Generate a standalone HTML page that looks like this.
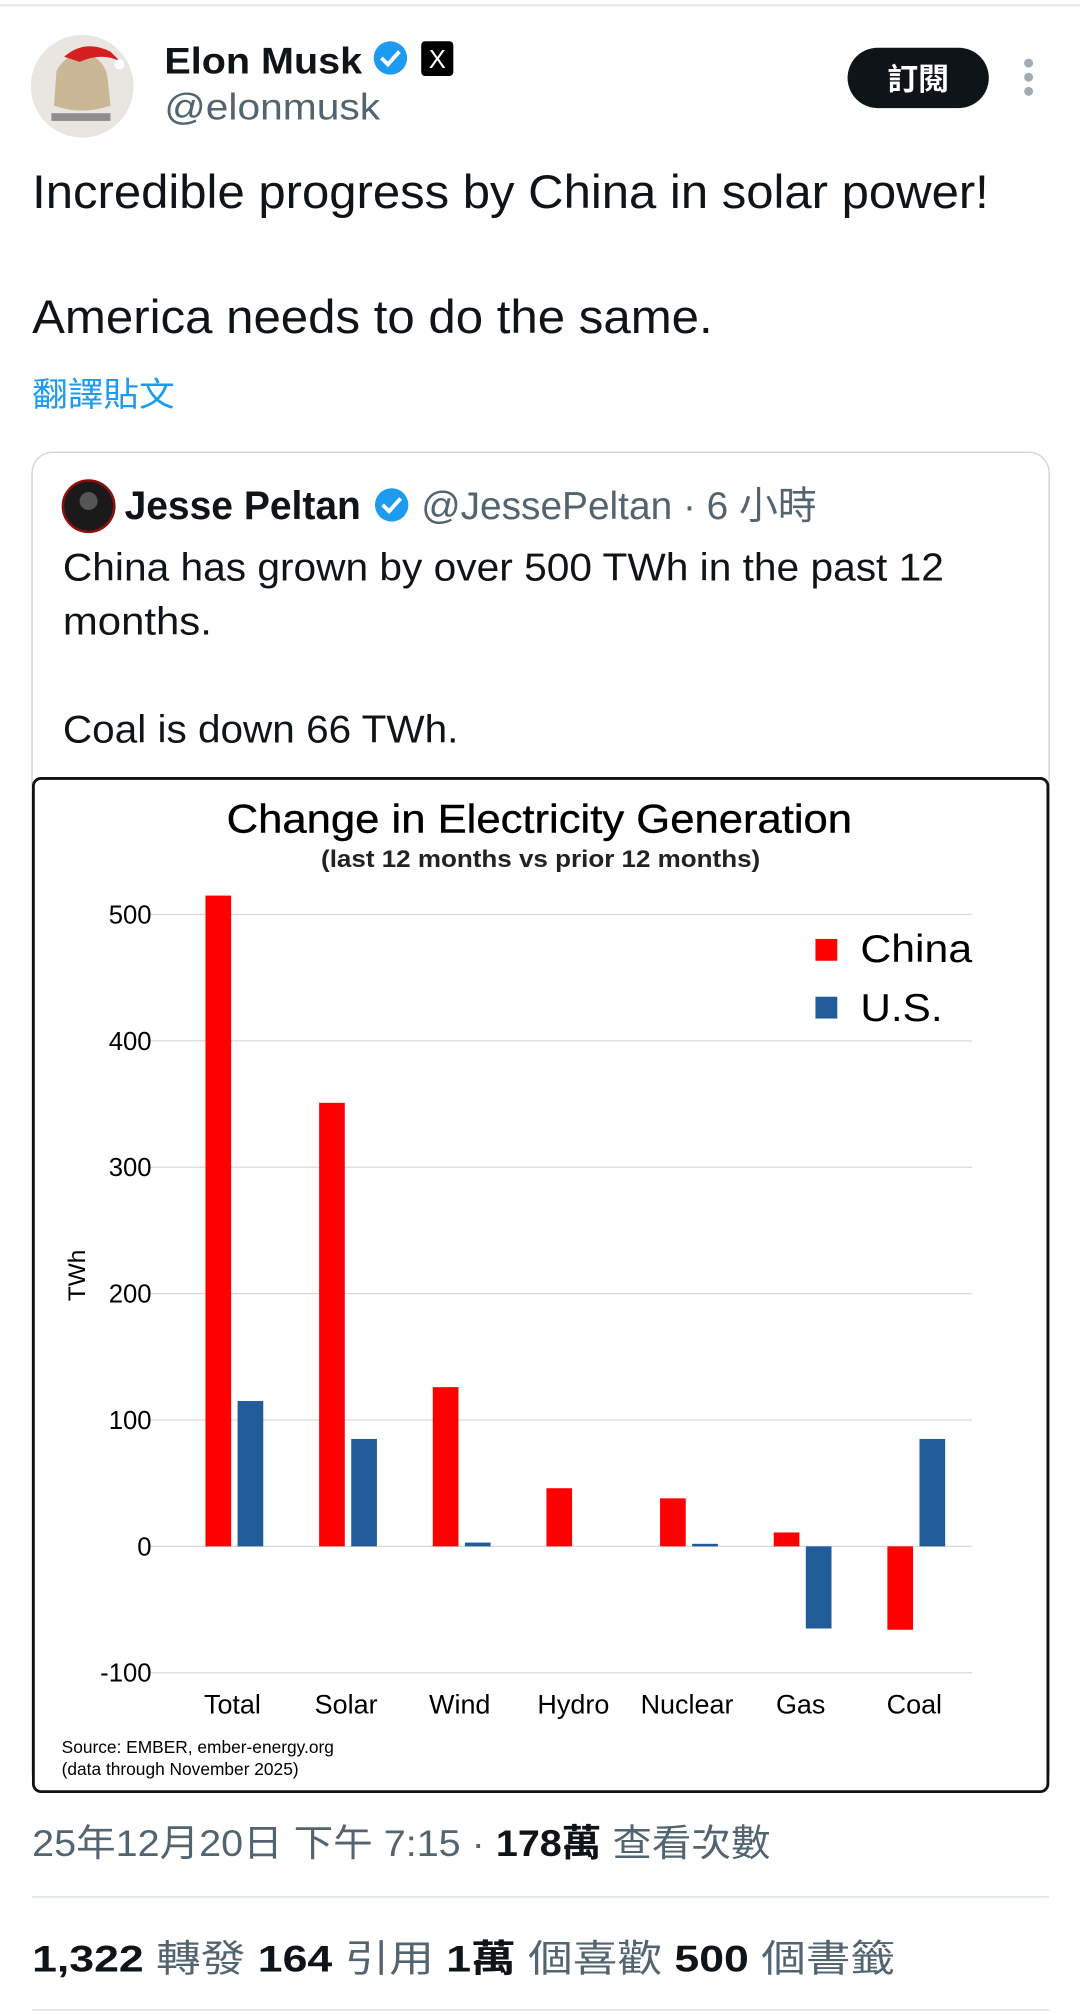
<!DOCTYPE html>
<html><head><meta charset="utf-8">
<style>
html,body{margin:0;padding:0;background:#fff;}
svg{display:block;}
text{font-family:"Liberation Sans","Noto Sans CJK TC",sans-serif;}
</style></head>
<body>
<svg id="page" width="1080" height="2014" viewBox="0 0 841 1568" xmlns="http://www.w3.org/2000/svg">
  <line x1="0" y1="4" x2="841" y2="4" stroke="#e6e6e6" stroke-width="1.5"/>
  <g>
    <circle cx="64" cy="67" r="40" fill="#e9e6e2"/>
    <path d="M44 55 Q52 40 68 42 Q82 46 84 62 L86 82 Q64 90 42 82 Z" fill="#c9b796"/>
    <path d="M50 44 Q66 30 86 40 L94 48 Q80 40 62 48 Z" fill="#d42020"/>
    <circle cx="93" cy="50" r="4" fill="#fff"/>
    <rect x="40" y="88" width="46" height="6" fill="#333" opacity="0.5"/>
  </g>
  <text x="128" y="57" font-size="29" font-weight="bold" fill="#0f1419" textLength="154" lengthAdjust="spacingAndGlyphs">Elon Musk</text>
  <g>
    <circle cx="304" cy="45" r="13" fill="#1d9bf0"/>
    <path d="M297 45 l5 5 l9 -10" stroke="#fff" stroke-width="3" fill="none"/>
  </g>
  <g>
    <rect x="328" y="32" width="25" height="27" rx="3" fill="#000"/>
    <text x="340.5" y="53" font-size="20" fill="#fff" text-anchor="middle">X</text>
  </g>
  <text x="128" y="93" font-size="29" fill="#536471" textLength="168" lengthAdjust="spacingAndGlyphs">@elonmusk</text>
  <g>
    <rect x="660" y="37" width="110" height="47" rx="23.5" fill="#0f1419"/>
    <text x="715" y="70" font-size="24" font-weight="bold" fill="#fff" text-anchor="middle">訂閱</text>
  </g>
  <g fill="#a0abb4">
    <circle cx="801" cy="49" r="3.5"/><circle cx="801" cy="60" r="3.5"/><circle cx="801" cy="71" r="3.5"/>
  </g>
  <text x="25" y="162" font-size="37" fill="#0f1419" textLength="745" lengthAdjust="spacingAndGlyphs">Incredible progress by China in solar power!</text>
  <text x="25" y="259" font-size="37" fill="#0f1419" textLength="530" lengthAdjust="spacingAndGlyphs">America needs to do the same.</text>
  <text x="25" y="316" font-size="26" fill="#1d9bf0" textLength="111" lengthAdjust="spacingAndGlyphs">翻譯貼文</text>

  <rect x="25" y="352" width="792" height="1043" rx="16" fill="#fff" stroke="#cfd9de" stroke-width="1.2"/>
  <g>
    <circle cx="69" cy="394" r="20" fill="#1a1a1a" stroke="#8a1010" stroke-width="2"/>
    <circle cx="69" cy="390" r="7" fill="#555"/>
  </g>
  <text x="97" y="404" font-size="31" font-weight="bold" fill="#0f1419" textLength="184" lengthAdjust="spacingAndGlyphs">Jesse Peltan</text>
  <g>
    <circle cx="305" cy="393" r="13" fill="#1d9bf0"/>
    <path d="M298 393 l5 5 l9 -10" stroke="#fff" stroke-width="3" fill="none"/>
  </g>
  <text x="328" y="404" font-size="30" fill="#536471" textLength="308" lengthAdjust="spacingAndGlyphs">@JessePeltan · 6 小時</text>
  <text x="49" y="452" font-size="30" fill="#0f1419" textLength="686" lengthAdjust="spacingAndGlyphs">China has grown by over 500 TWh in the past 12</text>
  <text x="49" y="494" font-size="30" fill="#0f1419" textLength="116" lengthAdjust="spacingAndGlyphs">months.</text>
  <text x="49" y="578" font-size="30" fill="#0f1419" textLength="308" lengthAdjust="spacingAndGlyphs">Coal is down 66 TWh.</text>

  <g id="chart">
    <rect x="26" y="606" width="790" height="789" rx="6" fill="#fff" stroke="#111" stroke-width="2.2"/>
    <text x="420" y="648" font-size="31" fill="#000" text-anchor="middle" textLength="487" lengthAdjust="spacingAndGlyphs" stroke="#000" stroke-width="0.3">Change in Electricity Generation</text>
    <text x="421" y="675" font-size="19" font-weight="bold" fill="#222" text-anchor="middle" textLength="342" lengthAdjust="spacingAndGlyphs">(last 12 months vs prior 12 months)</text>
    <text x="0" y="0" font-size="19" fill="#000" text-anchor="middle" transform="translate(66,993) rotate(-90)">TWh</text>
    <g id="grid"></g>
    <g id="bars"></g>
    <g id="xlabels"></g>
    <g>
      <rect x="635" y="731" width="17" height="17" fill="#ff0000"/>
      <text x="670" y="749" font-size="30" fill="#000" textLength="87" lengthAdjust="spacingAndGlyphs">China</text>
      <rect x="635" y="776" width="17" height="17" fill="#1f5c99"/>
      <text x="670" y="795" font-size="30" fill="#000" textLength="64" lengthAdjust="spacingAndGlyphs">U.S.</text>
    </g>
    <text x="48" y="1365" font-size="13.5" fill="#000">Source: EMBER, ember-energy.org</text>
    <text x="48" y="1382" font-size="13.5" fill="#000">(data through November 2025)</text>
  </g>

  <text x="25" y="1445" font-size="29" fill="#536471" textLength="575" lengthAdjust="spacingAndGlyphs">25年12月20日 下午 7:15 · <tspan fill="#0f1419" font-weight="bold">178萬</tspan> 查看次數</text>
  <line x1="25" y1="1477" x2="817" y2="1477" stroke="#e1e6e9" stroke-width="1.5"/>
  <text x="25" y="1535" font-size="29" fill="#536471" textLength="672" lengthAdjust="spacingAndGlyphs"><tspan fill="#0f1419" font-weight="bold">1,322</tspan> 轉發  <tspan fill="#0f1419" font-weight="bold">164</tspan> 引用  <tspan fill="#0f1419" font-weight="bold">1萬</tspan> 個喜歡  <tspan fill="#0f1419" font-weight="bold">500</tspan> 個書籤</text>
  <line x1="25" y1="1565" x2="817" y2="1565" stroke="#e1e6e9" stroke-width="1.5"/>
</svg>
<script>
const categories = ["Total","Solar","Wind","Hydro","Nuclear","Gas","Coal"];
const chinaValues = [515, 351, 126, 46, 38, 11, -66];
const usValues = [115, 85, 3, 0, 2, -65, 85];
const yTicks = [500, 400, 300, 200, 100, 0, -100];

const NS = "http://www.w3.org/2000/svg";
const plotLeft = 116, plotRight = 757, y0px = 1204, pxPer = 0.984;
function yScale(v){ return y0px - v * pxPer; }
function xCenter(i){ return 181 + i * ((712 - 181) / (categories.length - 1)); }
function mk(tag, attrs){ const e = document.createElementNS(NS, tag); for (const k in attrs) e.setAttribute(k, attrs[k]); return e; }

const grid = document.getElementById('grid');
yTicks.forEach(function(t){
  const ln = mk('line', {x1: plotLeft, x2: plotRight, y1: yScale(t), y2: yScale(t), stroke: '#d9d9d9', 'stroke-width': 1});
  
  
  grid.appendChild(ln);
  const tx = mk('text', {x: 118, y: yScale(t) + 7, 'font-size': 20, 'text-anchor': 'end', fill: '#000'});
  tx.textContent = t;
  
  
  grid.appendChild(tx);
});

const bars = document.getElementById('bars');
const bw = 20;
categories.forEach(function(c, i){
  const cx = xCenter(i);
  const cv = chinaValues[i], uv = usValues[i];
  const r1 = mk('rect', {x: cx - 21, y: Math.min(yScale(cv), y0px), width: bw, height: Math.abs(cv * pxPer), fill: '#ff0000'});
  
  
  bars.appendChild(r1);
  const r2 = mk('rect', {x: cx + 4, y: Math.min(yScale(uv), y0px), width: bw, height: Math.abs(uv * pxPer), fill: '#1f5c99'});
  
  
  bars.appendChild(r2);
  const lb = mk('text', {x: cx, y: 1334, 'font-size': 21, 'text-anchor': 'middle', fill: '#000'});
  lb.textContent = c;
  
  
  document.getElementById('xlabels').appendChild(lb);
});
</script>
</body></html>
